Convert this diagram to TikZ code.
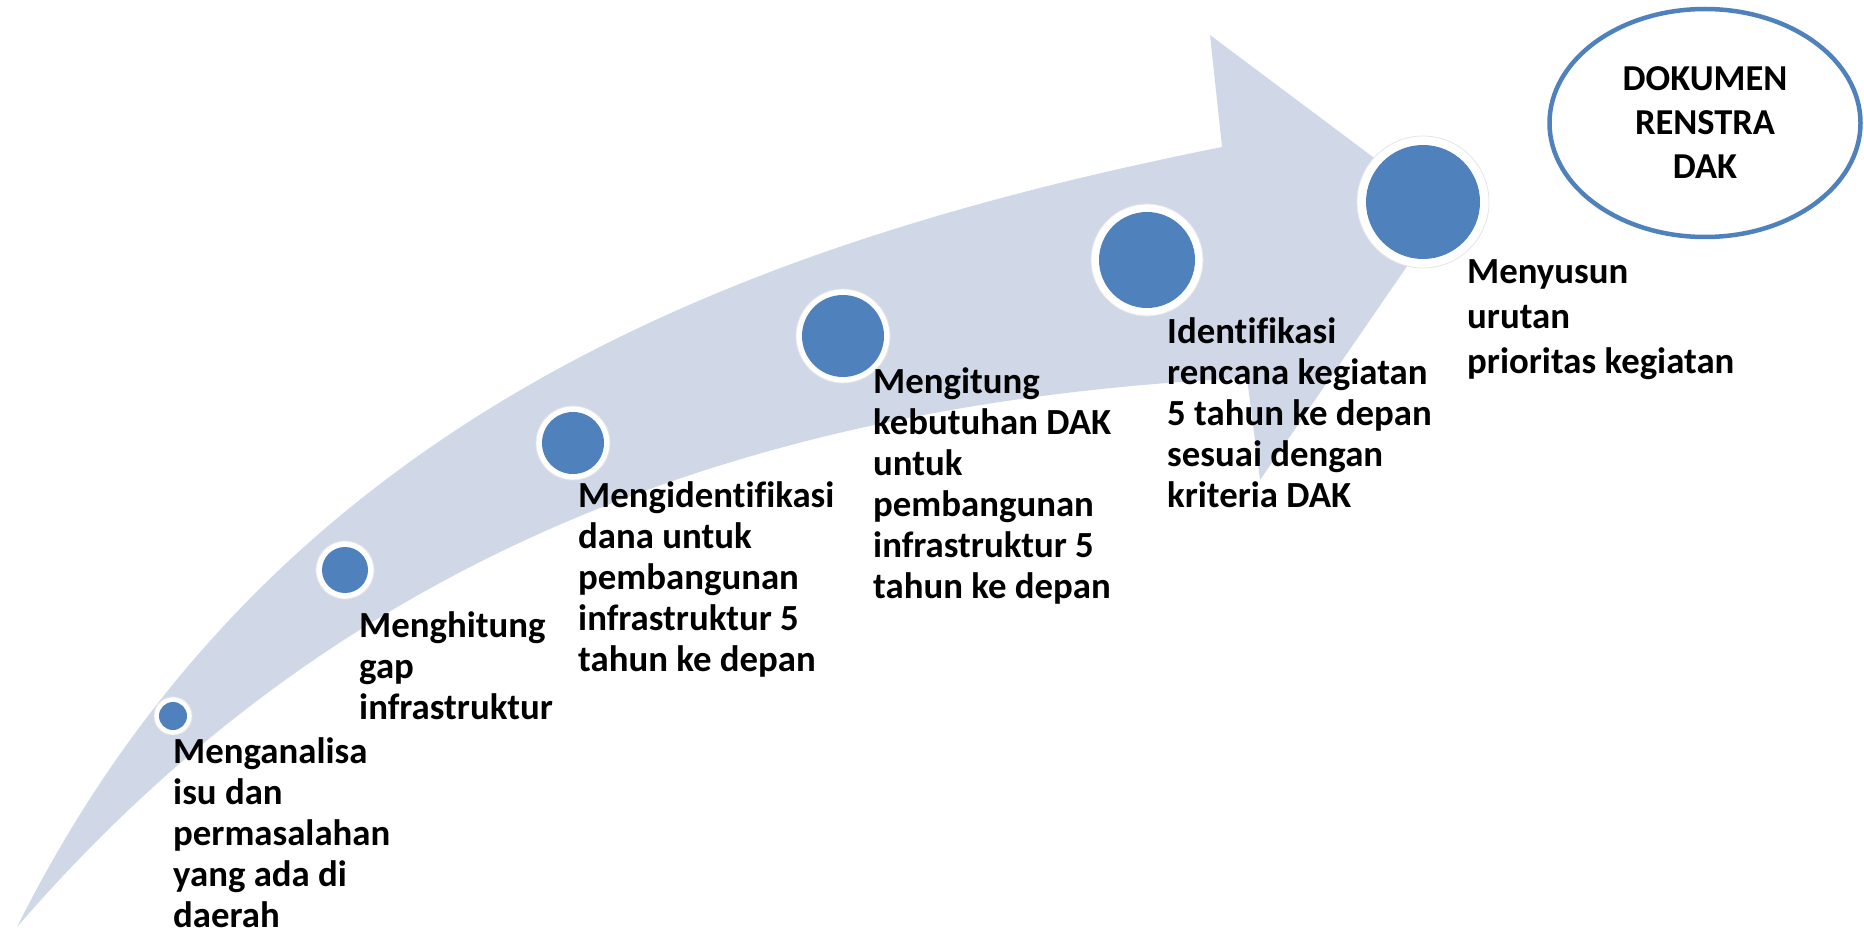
\documentclass[tikz,border=0pt]{standalone}
\usepackage{fontspec}
\setmainfont{Carlito}[Ligatures=NoCommon]
\usetikzlibrary{shapes.geometric}
\definecolor{band}{RGB}{208,216,232}
\definecolor{dot}{RGB}{79,129,189}
\begin{document}
\begin{tikzpicture}[x=1pt,y=-1pt,
  lbl/.style={anchor=north west, inner sep=0pt, align=left, font=\fontsize{36.8}{41}\selectfont\bfseries},
  ringc/.style={circle, fill=white, draw=black!10, line width=0.8pt, inner sep=0pt},
  dotc/.style={circle, fill=dot, inner sep=0pt},
  docnode/.style={ellipse, draw=dot, line width=4.5pt, inner sep=0pt, align=center, font=\fontsize{36.5}{44}\selectfont\bfseries}]
\useasboundingbox (0,0) rectangle (1864,933);
% curved arrow
\fill[band] (17,927) .. controls (267,427) and (722,247) .. (1222,147)
  -- (1210,35) -- (1445,211) -- (1260,480) -- (1247,378)
  .. controls (680,405) and (300,600) .. (17,927) -- cycle;
% dots
\node[ringc, minimum size=38pt] (r1) at (173,716) {};
\node[dotc, minimum size=28pt] (c1) at (r1) {};
\node[ringc, minimum size=58pt] (r2) at (345,570) {};
\node[dotc, minimum size=46pt] (c2) at (r2) {};
\node[ringc, minimum size=74pt] (r3) at (573,443) {};
\node[dotc, minimum size=62pt] (c3) at (r3) {};
\node[ringc, minimum size=94pt] (r4) at (843,336) {};
\node[dotc, minimum size=82pt] (c4) at (r4) {};
\node[ringc, minimum size=112pt] (r5) at (1147,260) {};
\node[dotc, minimum size=96pt] (c5) at (r5) {};
\node[ringc, minimum size=132pt] (r6) at (1423,202) {};
\node[dotc, minimum size=114pt] (c6) at (r6) {};
% labels
\node[lbl] (t1) at (173,734.3) {\strut Menganalisa\\isu dan\\permasalahan\\yang ada di\\daerah};
\node[lbl] (t2) at (359,608.3) {\strut Menghitung\\gap\\infrastruktur};
\node[lbl] (t3) at (578,478.3) {\strut Mengidentifikasi\\dana untuk\\pembangunan\\infrastruktur 5\\tahun ke depan};
\node[lbl] (t4) at (873,364.3) {\strut Mengitung\\kebutuhan DAK\\untuk\\pembangunan\\infrastruktur 5\\tahun ke depan};
\node[lbl] (t5) at (1167,314.3) {\strut Identifikasi\\rencana kegiatan\\5 tahun ke depan\\sesuai dengan\\kriteria DAK};
\node[lbl] (t6) at (1467,254.3) {\strut Menyusun\\[4pt]urutan\\[4pt]prioritas kegiatan};
% document ellipse
\node[docnode, minimum width=311pt, minimum height=228pt] (doc) at (1705,123) {DOKUMEN\\RENSTRA\\DAK};
\end{tikzpicture}
\end{document}
